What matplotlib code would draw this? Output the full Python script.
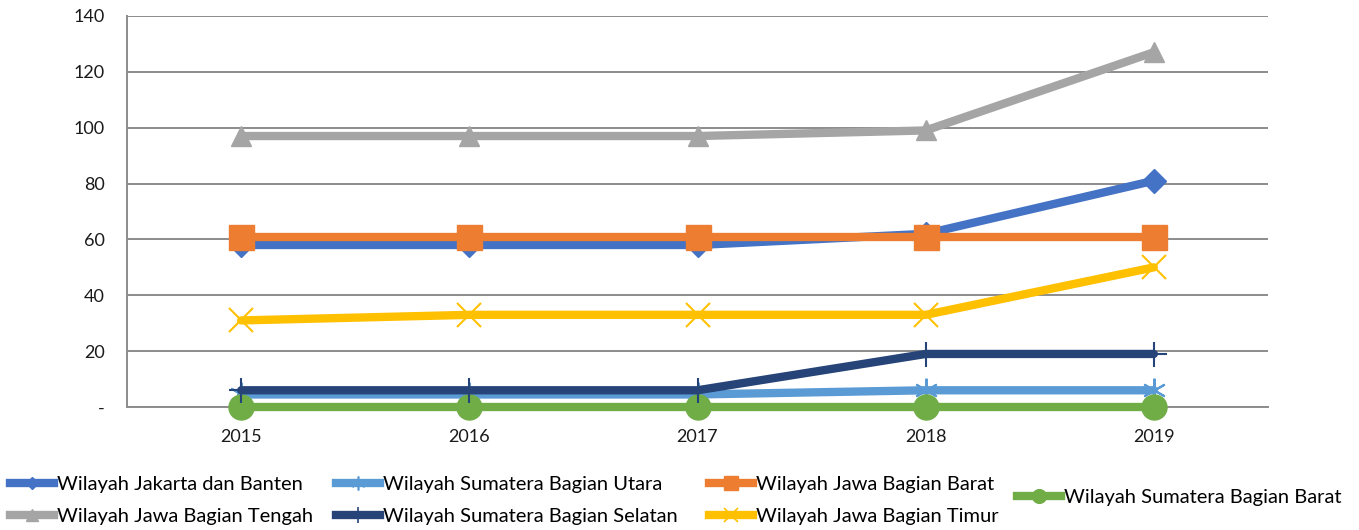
import matplotlib.pyplot as plt
from matplotlib.lines import Line2D

years = ['2015', '2016', '2017', '2018', '2019']

jakarta_banten = [58, 58, 58, 62, 81]
sumatera_utara = [4.5, 4.5, 4.5, 6, 6]
jawa_barat = [61, 61, 61, 61, 61]
sumatera_barat = [0, 0, 0, 0, 0]
jawa_tengah = [97, 97, 97, 99, 127]
sumatera_selatan = [6, 6, 6, 19, 19]
jawa_timur = [31, 33, 33, 33, 50]

yticks = [0, 20, 40, 60, 80, 100, 120, 140]
ytick_labels = ['-', '20', '40', '60', '80', '100', '120', '140']

plt.rcParams['font.family'] = ['Lato', 'DejaVu Sans']

fig = plt.figure(figsize=(13.59, 5.30), dpi=100)
ax = fig.add_axes([0.0935, 0.232, 0.8395, 0.738])

x = list(range(len(years)))

# (label, values, color, marker, markersize)
series = [
    ('Wilayah Jakarta dan Banten', jakarta_banten, '#4472C4', 'D', 12),
    ('Wilayah Sumatera Bagian Utara', sumatera_utara, '#5B9BD5', '*', 0),
    ('Wilayah Jawa Bagian Barat', jawa_barat, '#ED7D31', 's', 18),
    ('Wilayah Sumatera Bagian Barat', sumatera_barat, '#70AD47', 'o', 18),
    ('Wilayah Jawa Bagian Tengah', jawa_tengah, '#A5A5A5', '^', 15),
    ('Wilayah Sumatera Bagian Selatan', sumatera_selatan, '#264478', '+', 0),
    ('Wilayah Jawa Bagian Timur', jawa_timur, '#FFC000', 'x', 0),
]

handles = {}
for i, (lab, vals, col, mk, ms) in enumerate(series):
    z = 3 + i
    ax.plot(x, vals, color=col, lw=6, solid_capstyle='round', zorder=z, clip_on=False)
    if lab == 'Wilayah Sumatera Bagian Utara':
        ax.plot(x, vals, ls='none', marker=(6, 2, 0), ms=17, mew=1.5, color=col, zorder=z, clip_on=False)
        h = Line2D([], [], color=col, lw=6, marker=(6, 2, 0), ms=10, mew=1.2)
    elif lab == 'Wilayah Sumatera Bagian Selatan':
        ax.plot(x, vals, ls='none', marker='+', ms=18, mew=1.5, color=col, zorder=z, clip_on=False)
        h = Line2D([], [], color=col, lw=6, marker='+', ms=11, mew=1.2)
    elif lab == 'Wilayah Jawa Bagian Timur':
        ax.plot(x, vals, ls='none', marker='x', ms=17, mew=1.5, color=col, zorder=z, clip_on=False)
        h = Line2D([], [], color=col, lw=6, marker='x', ms=10, mew=1.2)
    else:
        ax.plot(x, vals, ls='none', marker=mk, ms=ms, color=col, mec=col, zorder=z, clip_on=False)
        h = Line2D([], [], color=col, lw=6, marker=mk, ms=ms * 0.55, mec=col)
    handles[lab] = h

ax.set_xlim(-0.5, 4.5)
ax.set_ylim(0, 140)
ax.set_yticks(yticks)
ax.set_yticklabels(ytick_labels)
ax.set_xticks(x)
ax.set_xticklabels(years)
ax.tick_params(length=0, labelsize=13, colors='#1a1a1a')
ax.tick_params(axis='x', pad=16)
ax.tick_params(axis='y', pad=16)
ax.grid(axis='y', color='#8c8c8c', lw=1.4, zorder=0)
for s in ['top', 'right']:
    ax.spines[s].set_visible(False)
ax.spines['left'].set_color('#8c8c8c')
ax.spines['left'].set_linewidth(1.4)
ax.spines['bottom'].set_color('#8c8c8c')
ax.spines['bottom'].set_linewidth(1.4)

# legend: one column at a time, placed like the reference
columns = [
    (['Wilayah Jakarta dan Banten', 'Wilayah Jawa Bagian Tengah'], 10, 500.5),
    (['Wilayah Sumatera Bagian Utara', 'Wilayah Sumatera Bagian Selatan'], 336, 500.5),
    (['Wilayah Jawa Bagian Barat', 'Wilayah Jawa Bagian Timur'], 709, 500.5),
    (['Wilayah Sumatera Bagian Barat'], 1017, 497),
]
W, H = 1359, 530
for labs, px, py in columns:
    fig.legend([handles[k] for k in labs], labs, loc='center left',
               bbox_to_anchor=(px / W, 1 - py / H), frameon=False, fontsize=14.5,
               handlelength=2.2, handletextpad=0.15, labelspacing=0.72,
               borderaxespad=0, borderpad=0)

fig.savefig('out.png', dpi=100)
